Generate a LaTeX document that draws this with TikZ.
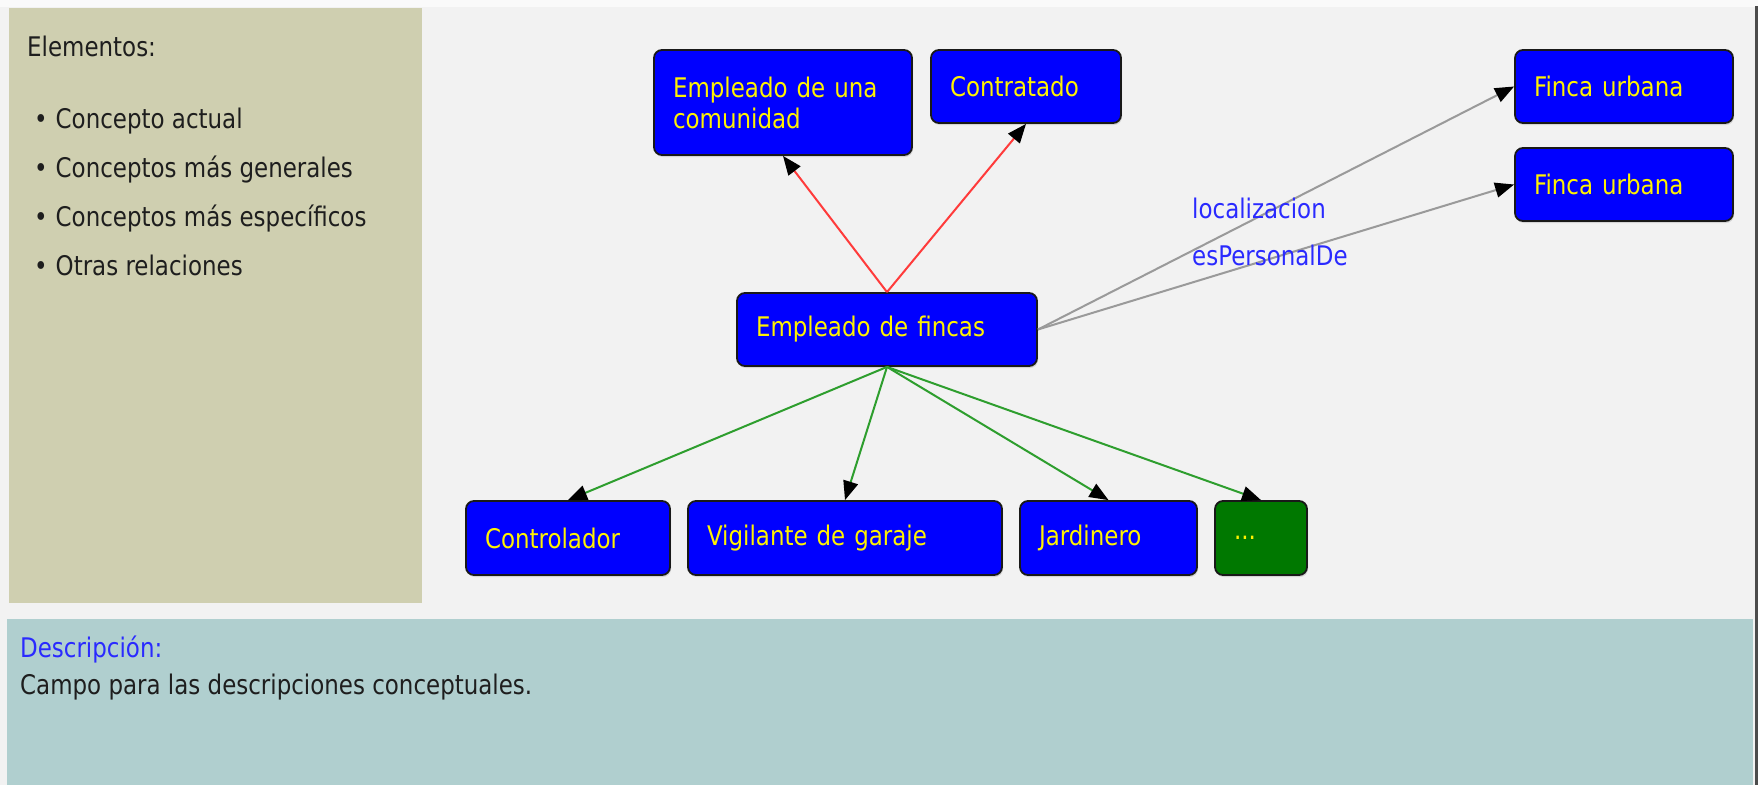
\documentclass[tikz,border=0pt]{standalone}
\usepackage{fontspec}
\setmainfont{DejaVu Sans}[FakeStretch=0.85]
\usetikzlibrary{arrows.meta,shadows}
\definecolor{bgpanel}{HTML}{F2F2F2}
\definecolor{tanpanel}{HTML}{CFCFB0}
\definecolor{tealpanel}{HTML}{B0CFCF}
\definecolor{edgered}{HTML}{FF3B3B}
\definecolor{edgegreen}{HTML}{2E9E2E}
\definecolor{edgegray}{HTML}{9A9A9A}
\definecolor{labelblue}{HTML}{2A2AFF}
\definecolor{boxgreen}{HTML}{007800}
\definecolor{txt}{HTML}{1E1E1E}
\newcommand{\uifont}{\fontsize{27}{31}\selectfont}
\begin{document}
\begin{tikzpicture}[x=1pt,y=-1pt,
  concept/.style={draw=black!90, line width=1.8pt, rounded corners=8pt,
    fill=blue, text=yellow, align=left, inner xsep=19pt, inner ysep=0pt,
    font=\uifont, drop shadow={opacity=0.25, shadow xshift=1pt, shadow yshift=-2pt}},
  etcbox/.style={concept, fill=boxgreen},
  rel/.style={line width=2pt, -{Triangle[length=19pt,width=15pt,color=black]}},
  genrel/.style={rel, draw=edgered},
  specrel/.style={rel, draw=edgegreen},
  otherrel/.style={rel, draw=edgegray},
  plain/.style={anchor=base west, inner sep=0pt, font=\uifont, text=txt},
  rellabel/.style={anchor=base west, inner sep=0pt, font=\uifont, text=labelblue}
]
\useasboundingbox (0,0) rectangle (1758,785);
% panels
\fill[bgpanel] (0,0) rectangle (1758,785);
\fill[white!60!bgpanel] (0,0) rectangle (1758,7);
\fill[tanpanel] (9,8) rectangle (422,603);
\fill[tealpanel] (7,619) rectangle (1753,785);
\draw[black!70, line width=3pt] (1756,6) -- (1756,785);

% left panel text
\node[plain] (elem) at (27,56) {Elementos:};
\node[plain] (b1) at (34,128) {•\kern8pt Concepto actual};
\node[plain] (b2) at (34,177) {•\kern8pt Conceptos más generales};
\node[plain] (b3) at (34,226) {•\kern8pt Conceptos más específicos};
\node[plain] (b4) at (34,275) {•\kern8pt Otras relaciones};

% description
\node[rellabel] (desc) at (20,657) {Descripción:};
\node[plain] (campo) at (20,694) {Campo para las descripciones conceptuales.};

% concept nodes
\node[concept, minimum width=258pt, minimum height=105pt, text width=220pt] (educ) at (783,102.5) {Empleado de una\\comunidad};
\node[concept, minimum width=190pt, minimum height=73pt, text width=152pt] (contr) at (1026,86.5) {Contratado};
\node[concept, minimum width=300pt, minimum height=73pt, text width=262pt] (fincas) at (887,329.5) {Empleado de fincas};
\node[concept, minimum width=218pt, minimum height=73pt, text width=180pt] (fu1) at (1624,86.5) {Finca urbana};
\node[concept, minimum width=218pt, minimum height=73pt, text width=180pt] (fu2) at (1624,184.5) {Finca urbana};
\node[concept, minimum width=204pt, minimum height=74pt, text width=166pt] (ctrl) at (568,538) {Controlador};
\node[concept, minimum width=314pt, minimum height=74pt, text width=276pt] (vig) at (845,538) {Vigilante de garaje};
\node[concept, minimum width=177pt, minimum height=74pt, text width=139pt] (jard) at (1108.5,538) {Jardinero};
\node[etcbox, minimum width=92pt, minimum height=74pt, text width=54pt] (etc) at (1261,538) {...};

% connectors
\draw[genrel] (fincas.north) -- (educ.south);
\draw[genrel] (fincas.north) -- (contr.south);
\draw[otherrel] (fincas.east) -- (fu1.west);
\draw[otherrel] (fincas.east) -- (fu2.west);
\draw[specrel] (fincas.south) -- (ctrl.north);
\draw[specrel] (fincas.south) -- (vig.north);
\draw[specrel] (fincas.south) -- (jard.north);
\draw[specrel] (fincas.south) -- (etc.north);

% relation labels
\node[rellabel] (lloc) at (1192,218) {localizacion};
\node[rellabel] (lper) at (1192,265) {esPersonalDe};
\end{tikzpicture}
\end{document}
